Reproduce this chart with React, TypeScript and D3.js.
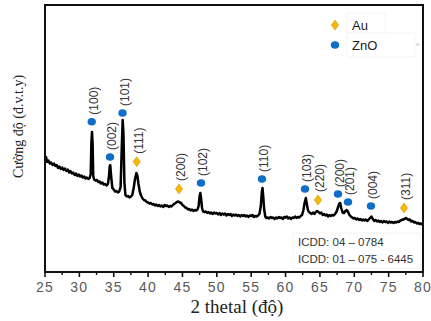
import React from "react";
import * as d3 from "d3";

// XRD pattern (2θ in degrees, intensity in arbitrary units)
const twoTheta = [
  25.0, 25.15, 25.3, 25.5, 25.7, 25.9, 26.1, 26.3, 26.5, 26.7, 26.9, 27.1, 27.3, 27.5, 27.7, 27.9,
  28.1, 28.3, 28.5, 28.7, 28.9, 29.1, 29.3, 29.5, 29.7, 29.9, 30.1, 30.3, 30.5, 30.7, 30.9, 31.1,
  31.3, 31.5, 31.65, 31.75, 31.84, 31.93, 32.02, 32.15, 32.35, 32.55, 32.75, 32.95, 33.15, 33.35,
  33.55, 33.75, 33.95, 34.15, 34.3, 34.42, 34.5, 34.62, 34.8, 35.0, 35.2, 35.4, 35.6, 35.8, 36.0,
  36.15, 36.3, 36.42, 36.55, 36.7, 36.9, 37.1, 37.3, 37.5, 37.7, 37.9, 38.1, 38.3, 38.45, 38.6,
  38.8, 39.0, 39.2, 39.4, 39.6, 39.8, 40.0, 40.2, 40.4, 40.6, 40.8, 41.0, 41.2, 41.4, 41.6, 41.8,
  42.0, 42.2, 42.4, 42.6, 42.8, 43.0, 43.2, 43.4, 43.6, 43.8, 44.0, 44.2, 44.4, 44.6, 44.8, 45.0,
  45.2, 45.4, 45.6, 45.8, 46.0, 46.2, 46.4, 46.6, 46.8, 47.0, 47.2, 47.35, 47.5, 47.6, 47.7, 47.85,
  48.0, 48.2, 48.4, 48.6, 48.8, 49.0, 49.2, 49.4, 49.6, 49.8, 50.0, 50.2, 50.4, 50.6, 50.8, 51.0,
  51.2, 51.4, 51.6, 51.8, 52.0, 52.2, 52.4, 52.6, 52.8, 53.0, 53.2, 53.4, 53.6, 53.8, 54.0, 54.2,
  54.4, 54.6, 54.8, 55.0, 55.2, 55.4, 55.6, 55.8, 56.0, 56.2, 56.4, 56.55, 56.65, 56.75, 56.9,
  57.05, 57.2, 57.4, 57.6, 57.8, 58.0, 58.2, 58.4, 58.6, 58.8, 59.0, 59.2, 59.4, 59.6, 59.8, 60.0,
  60.2, 60.4, 60.6, 60.8, 61.0, 61.2, 61.4, 61.6, 61.8, 62.0, 62.2, 62.4, 62.6, 62.8, 62.95, 63.1,
  63.25, 63.4, 63.6, 63.8, 64.0, 64.2, 64.4, 64.6, 64.8, 65.0, 65.2, 65.4, 65.6, 65.8, 66.0, 66.2,
  66.4, 66.6, 66.8, 67.0, 67.2, 67.4, 67.6, 67.8, 67.95, 68.1, 68.3, 68.5, 68.7, 68.9, 69.1, 69.3,
  69.5, 69.7, 69.9, 70.1, 70.3, 70.5, 70.7, 70.9, 71.1, 71.3, 71.5, 71.7, 71.9, 72.1, 72.3, 72.5,
  72.7, 72.9, 73.1, 73.3, 73.5, 73.7, 73.9, 74.1, 74.3, 74.5, 74.7, 74.9, 75.1, 75.3, 75.5, 75.7,
  75.9, 76.1, 76.3, 76.5, 76.7, 76.9, 77.1, 77.3, 77.5, 77.7, 77.9, 78.1, 78.3, 78.5, 78.7, 78.9,
  79.1, 79.3, 79.5, 79.7, 80.0,
];
const intensity = [
  1130, 1150, 1100, 1115, 1085, 1095, 1070, 1085, 1060, 1070, 1040, 1055, 1030, 1045, 1020, 1035,
  1010, 1025, 995, 1010, 985, 995, 970, 985, 960, 975, 955, 965, 945, 955, 935, 945,
  930, 940, 980, 1300, 1400, 1280, 960, 925, 915, 920, 900, 905, 885, 895,
  875, 880, 865, 880, 950, 1060, 1070, 960, 840, 825, 805, 810, 795, 805, 850,
  1200, 1520, 1380, 900, 770, 755, 760, 745, 755, 770, 840, 930, 990, 960, 880,
  800, 760, 735, 720, 715, 700, 695, 685, 690, 675, 680, 665, 675, 660, 670, 655,
  665, 650, 670, 660, 665, 650, 660, 655, 670, 680, 690, 700, 705, 695, 690, 670,
  660, 645, 640, 625, 630, 615, 625, 610, 620, 615, 625, 660, 760, 790, 740, 640,
  605, 600, 605, 590, 600, 585, 595, 580, 595, 585, 590, 575, 590, 570, 585, 575,
  585, 565, 580, 570, 580, 560, 575, 565, 575, 560, 570, 555, 570, 560, 570, 555,
  565, 550, 565, 560, 570, 550, 560, 555, 565, 580, 660, 800, 840, 760, 620,
  555, 540, 545, 535, 550, 540, 545, 530, 545, 535, 550, 540, 545, 530, 550, 545,
  555, 535, 545, 530, 545, 540, 555, 540, 550, 545, 560, 570, 620, 700, 740, 680,
  620, 600, 590, 580, 595, 580, 600, 610, 600, 585, 595, 570, 580, 565, 575, 555,
  570, 560, 570, 565, 580, 600, 640, 680, 690, 640, 595, 590, 610, 620, 600, 570,
  555, 545, 535, 540, 525, 535, 520, 530, 515, 525, 515, 525, 510, 525, 540, 555,
  530, 510, 520, 505, 515, 500, 510, 495, 510, 500, 505, 490, 505, 495, 500, 490,
  500, 495, 505, 500, 515, 520, 525, 530, 540, 530, 520, 525, 505, 510, 495, 500,
  485, 490, 480, 485, 470,
];

// ZnO reflections
const znoLabels = ["(100)", "(002)", "(101)", "(102)", "(110)", "(103)", "(200)", "(201)", "(004)"];
const znoPos = [31.8, 34.46, 36.28, 47.7, 56.57, 62.83, 67.63, 69.09, 72.43];
const znoMarkY = [1503, 1150, 1590, 890, 930, 830, 780, 700, 660];

// Au reflections
const auLabels = ["(111)", "(200)", "(220)", "(311)"];
const auPos = [38.34, 44.5, 64.72, 77.24];
const auMarkY = [1103, 830, 720, 640];

const xTicks = [25, 30, 35, 40, 45, 50, 55, 60, 65, 70, 75, 80];
const xMinorTicks = [27.5, 32.5, 37.5, 42.5, 47.5, 52.5, 57.5, 62.5, 67.5, 72.5, 77.5];

const legendLabels = ["Au", "ZnO"];
const icddLines = ["ICDD: 04 \u2013 0784", "ICDD: 01 \u2013 075 - 6445"];

const BLUE = "#0f6fc6";
const GOLD = "#f5b800";
const SANS = "Arial, 'Liberation Sans', sans-serif";
const SERIF = "'Times New Roman', 'Liberation Serif', serif";

const W = 431, H = 321;
const L = 45, R = 423, T = 5, B = 272;

function Diamond({ cx, cy }: { cx: number; cy: number }) {
  const w = 3.6, h = 5;
  return (
    <path
      d={`M${cx},${cy - h}L${cx + w},${cy}L${cx},${cy + h}L${cx - w},${cy}Z`}
      fill={GOLD}
      stroke="#d99a00"
      strokeWidth={0.6}
    />
  );
}

function Dot({ cx, cy }: { cx: number; cy: number }) {
  return <ellipse cx={cx} cy={cy} rx={4.2} ry={3.8} fill={BLUE} />;
}

export default function App() {
  const x = d3.scaleLinear().domain([25, 80]).range([L, R]);
  const y = d3.scaleLinear().domain([0, 2670]).range([B, T]);
  const pts = twoTheta.map((t, i) => [t, intensity[i]] as [number, number]);
  const line = d3
    .line<[number, number]>()
    .x((d) => x(d[0]))
    .y((d) => y(d[1]));

  const label = (txt: string, cx: number, cy: number, k: string) => (
    <text
      key={k}
      transform={`translate(${cx + 2},${cy - 7}) rotate(-90)`}
      dy="0.35em"
      fontFamily={SANS}
      fontSize={12}
      fill="#333"
    >
      {txt}
    </text>
  );

  return (
    <svg width={W} height={H} style={{ position: "absolute", left: 0, top: 0 }}>
      <rect width={W} height={H} fill="#fff" />
      {/* data */}
      <path d={line(pts) || ""} fill="none" stroke="#000" strokeWidth={2.5} strokeLinejoin="round" />

      {/* frame */}
      <rect x={L} y={T} width={R - L} height={B - T} fill="none" stroke="#111" strokeWidth={2} />

      {/* ticks */}
      {xTicks.map((t) => (
        <g key={"t" + t}>
          <line x1={x(t)} x2={x(t)} y1={B} y2={B + 5} stroke="#111" strokeWidth={1.6} />
          <text
            x={x(t)}
            y={292}
            textAnchor="middle"
            fontFamily={SANS}
            fontSize={14}
            letterSpacing={1.2}
            fill="#595959"
          >
            {t}
          </text>
        </g>
      ))}
      {xMinorTicks.map((t) => (
        <line key={"m" + t} x1={x(t)} x2={x(t)} y1={B} y2={B + 3} stroke="#111" strokeWidth={1.4} />
      ))}

      {/* axis titles */}
      <text x={237} y={313} textAnchor="middle" fontFamily={SERIF} fontSize={19} fill="#222">
        2 thetal (độ)
      </text>
      <text
        transform="translate(18,126.5) rotate(-90)"
        textAnchor="middle"
        dy="0.35em"
        fontFamily={SERIF}
        fontSize={14}
        fill="#222"
      >
        Cường độ (đ.v.t.y)
      </text>

      {/* ZnO markers */}
      {znoPos.map((p, i) => (
        <g key={"z" + i}>
          <Dot cx={x(p)} cy={y(znoMarkY[i])} />
          {label(znoLabels[i], x(p), y(znoMarkY[i]), "zl" + i)}
        </g>
      ))}
      {/* Au markers */}
      {auPos.map((p, i) => (
        <g key={"a" + i}>
          <Diamond cx={x(p)} cy={y(auMarkY[i])} />
          {label(auLabels[i], x(p), y(auMarkY[i]) - 1, "al" + i)}
        </g>
      ))}

      {/* legend */}
      <rect x={347} y={13} width={38} height={20} fill="#fff" stroke="#f0f0f0" strokeWidth={0.8} />
      <rect x={347} y={33} width={68} height={24} fill="#fff" stroke="#f0f0f0" strokeWidth={0.8} />
      <Diamond cx={335} cy={25} />
      <Dot cx={335} cy={45} />
      <text x={352} y={25} dy="0.35em" fontFamily={SANS} fontSize={13} fill="#222">
        {legendLabels[0]}
      </text>
      <text x={352} y={45} dy="0.35em" fontFamily={SANS} fontSize={13} fill="#222">
        {legendLabels[1]}
      </text>
      <text x={416} y={44} dy="0.35em" fontFamily={SANS} fontSize={6} fill="#bbb">
        e
      </text>

      {/* ICDD box */}
      <rect x={293} y={233} width={128} height={35} fill="#fff" stroke="#f0f0f0" strokeWidth={0.8} />
      {icddLines.map((s, i) => (
        <text key={s} x={298} y={242 + i * 16.5} dy="0.35em" fontFamily={SANS} fontSize={11.5} fill="#333">
          {s}
        </text>
      ))}
    </svg>
  );
}
